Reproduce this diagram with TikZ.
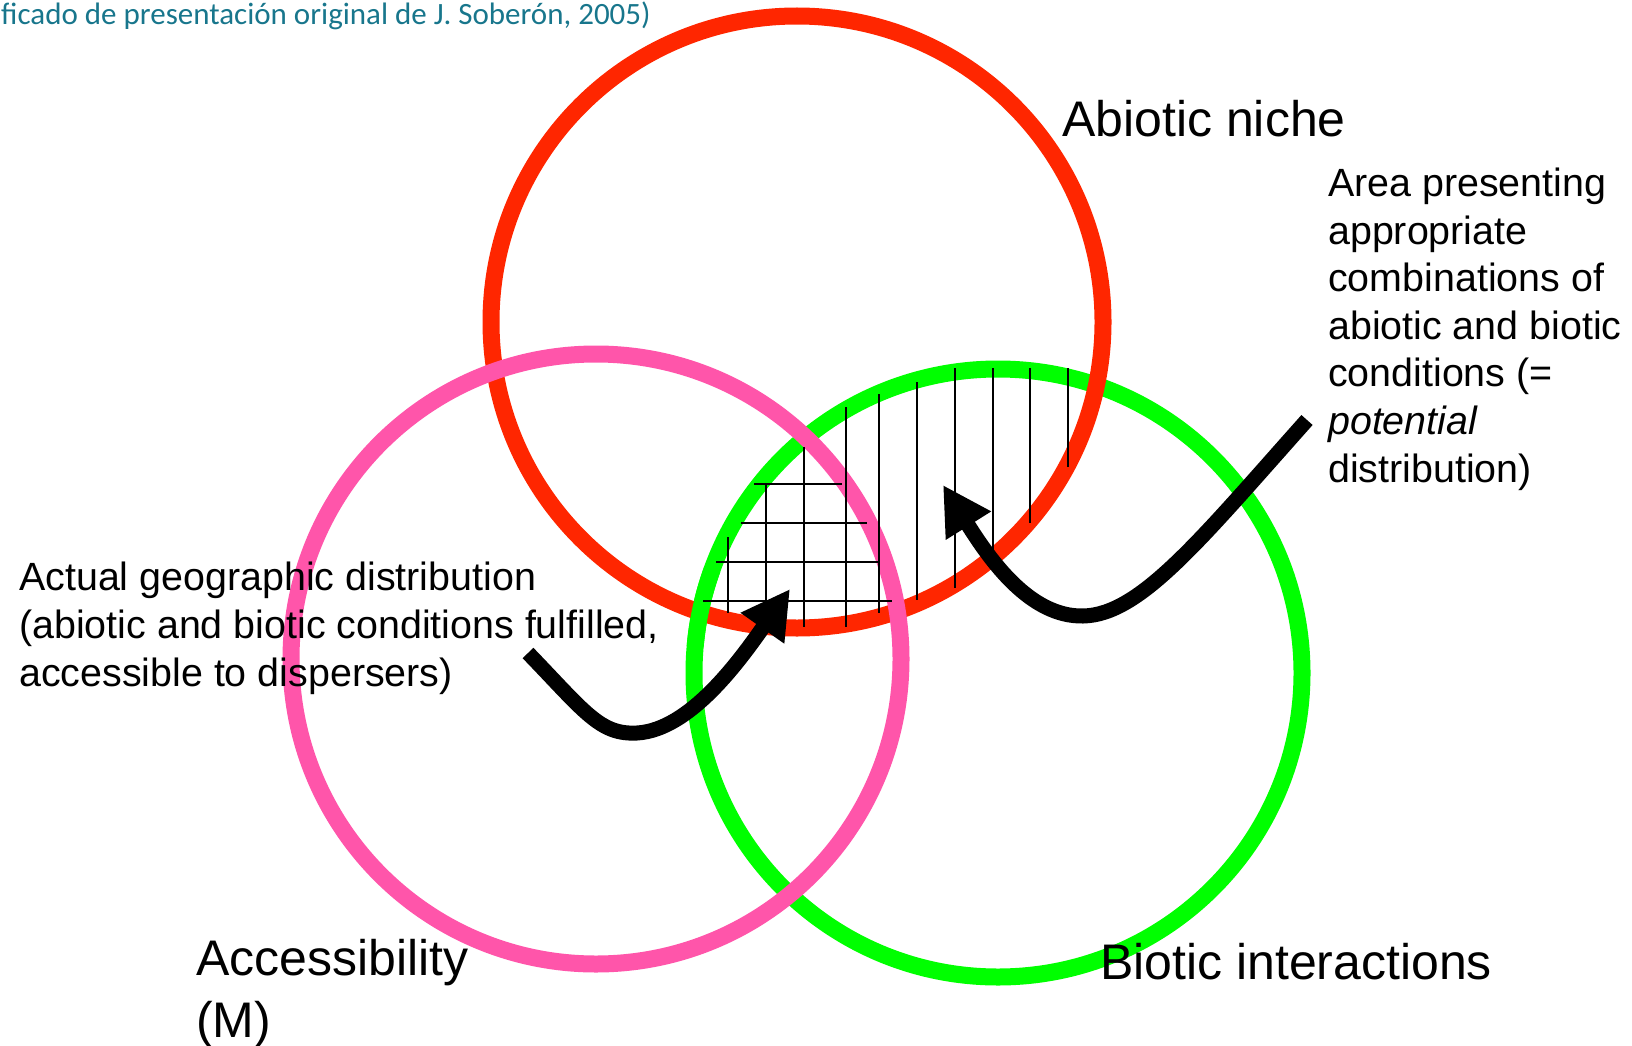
\documentclass[tikz,border=0pt]{standalone}
\usepackage{fontspec}
\setmainfont{Liberation Sans}
\newfontfamily\calib{Carlito}
\usetikzlibrary{arrows.meta}
\definecolor{cred}{RGB}{255,38,0}
\definecolor{cpink}{RGB}{255,85,170}
\definecolor{cgreen}{RGB}{0,255,0}
\definecolor{cteal}{RGB}{24,118,140}
\begin{document}
\begin{tikzpicture}[x=1pt,y=-1pt,
  ring/.style={line width=17pt},
  hatch/.style={line width=1.4pt,black},
  bigarrow/.style={line width=15pt,black,-{Triangle[length=48pt,width=50pt]}},
  lbl/.style={font=\fontsize{50}{62}\selectfont,anchor=base west,inner sep=0pt,align=left},
  note/.style={font=\fontsize{39.4}{47.6}\selectfont,anchor=base west,inner sep=0pt,align=left}]
\useasboundingbox (0,0) rectangle (1632,1046);
% source line
\node[font=\calib\fontsize{31}{36}\selectfont,text=cteal,anchor=base west,inner sep=0pt] (src) at (1,25) {ficado de presentación original de J. Soberón, 2005)};
% circles
\draw[ring,cgreen] (998,673) circle[radius=304];
\draw[ring,cred] (797,322) circle[radius=306];
\draw[ring,cgreen] ([shift={(185:304)}]998,673) arc[start angle=185,end angle=200,radius=304];
\draw[ring,cpink] (596,659) circle[radius=305];
% hatching: vertical lines
\foreach \x/\a/\b in {728/537/613,766/485/622,804/447/627,846/407/627,879/394/613,917/382/600,955/368/588,993/368/553,1030/368/523,1068/368/467}
  \draw[hatch] (\x,\a) -- (\x,\b);
% hatching: horizontal lines
\foreach \y/\a/\b in {484/754/842,523/741/867,562/716/879,601/703/892}
  \draw[hatch] (\a,\y) -- (\b,\y);
% labels (base anchor = baseline of the last line)
\node[lbl] (abiotic) at (1062,136) {Abiotic niche};
\node[lbl] (biotic) at (1100,979) {Biotic interactions};
\node[lbl] (access) at (196,1037) {Accessibility\\(M)};
\node[note] (actual) at (19,686) {Actual geographic distribution\\(abiotic and biotic conditions fulfilled,\\accessible to dispersers)};
\node[note] (potential) at (1328,482) {Area presenting\\appropriate\\combinations of\\abiotic and biotic\\conditions (=\\\textit{potential}\\distribution)};
% arrows
\coordinate (a1s) at (528,653);
\coordinate (a1m) at (637,733);
\coordinate (a1e) at (790,589);
\coordinate (a2s) at (1307,420);
\coordinate (a2m) at (1083,616);
\coordinate (a2e) at (943,485);
\draw[bigarrow] (a1s) .. controls (585,712) and (600,735) .. (a1m) .. controls (690,730) and (740,660) .. (a1e);
\draw[bigarrow] (a2s) .. controls (1200,540) and (1140,615) .. (a2m) .. controls (1030,617) and (990,560) .. (a2e);
\end{tikzpicture}
\end{document}
